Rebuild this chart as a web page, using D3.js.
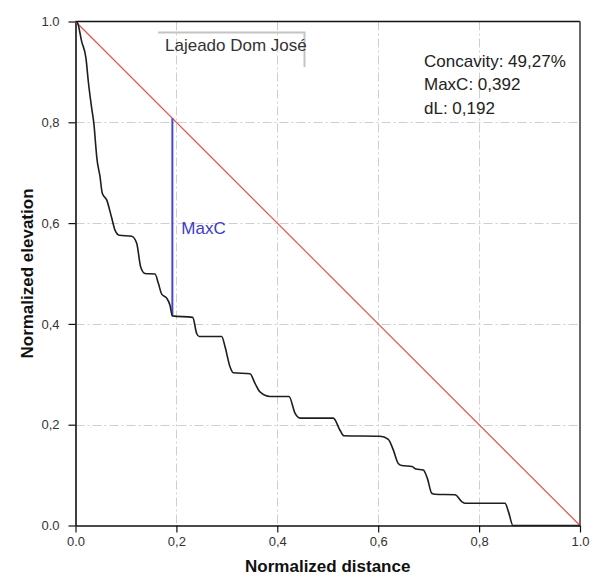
<!DOCTYPE html>
<html>
<head>
<meta charset="utf-8">
<script src="https://cdn.jsdelivr.net/npm/d3@7"></script>
<style>
  html, body { margin: 0; padding: 0; background: #fff; }
  svg { display: block; font-family: "Liberation Sans", Arial, sans-serif; }
</style>
</head>
<body>
<svg id="chart" width="607" height="579"></svg>
<script>
// Normalized longitudinal profile of the stream
const profileX = [0, 0.0036, 0.0123, 0.0208, 0.0254, 0.0321, 0.0367, 0.0400, 0.0420, 0.0486,
  0.0531, 0.0618, 0.0718, 0.0783, 0.0868, 0.1114, 0.1213, 0.1292, 0.1378, 0.1576,
  0.1641, 0.1709, 0.1808, 0.1873, 0.1920, 0.2323, 0.2402, 0.2454, 0.2898, 0.2963,
  0.3062, 0.3128, 0.3459, 0.3558, 0.3657, 0.3855, 0.4232, 0.4351, 0.4450, 0.5110,
  0.5243, 0.5322, 0.6036, 0.6200, 0.6299, 0.6398, 0.6466, 0.6670, 0.6749, 0.6894,
  0.6973, 0.7061, 0.7126, 0.7522, 0.7661, 0.7721, 0.8513, 0.8583, 0.8672, 1.0];
const profileY = [1.0, 0.998, 0.960, 0.927, 0.881, 0.828, 0.795, 0.755, 0.732, 0.692,
  0.659, 0.646, 0.610, 0.586, 0.576, 0.574, 0.560, 0.513, 0.500, 0.499,
  0.481, 0.459, 0.451, 0.437, 0.416, 0.413, 0.381, 0.375, 0.375, 0.355,
  0.315, 0.303, 0.301, 0.282, 0.265, 0.256, 0.256, 0.223, 0.213, 0.213,
  0.189, 0.178, 0.177, 0.171, 0.150, 0.123, 0.119, 0.117, 0.112, 0.110,
  0.094, 0.064, 0.062, 0.061, 0.047, 0.044, 0.044, 0.027, 0.0, 0.0];

// Reference straight line from source to mouth
const lineX = [0, 1];
const lineY = [1, 0];

// Concavity indices
const streamName = "Lajeado Dom José";
const concavity = 49.27;
const maxC = 0.392;
const dL = 0.192;

const tickValues = [0, 0.2, 0.4, 0.6, 0.8, 1.0];
const gridValues = [0.2, 0.4, 0.6, 0.8];

const fmtDec = (v, d) => v.toFixed(d).replace(".", ",");
const tickFmt = v => (v === 0 || v === 1) ? v.toFixed(1) : fmtDec(v, 1);

const svg = d3.select("#chart");
const plotL = 75.5, plotR = 580, plotT = 21.5, plotB = 525.5;

const x = d3.scaleLinear().domain([0, 1]).range([plotL, plotR]);
const y = d3.scaleLinear().domain([0, 1]).range([plotB, plotT]);

// dash-dot grid
const grid = svg.append("g").attr("stroke", "#cfcfcf").attr("stroke-width", 1)
  .attr("stroke-dasharray", "9,3,2,3");
grid.selectAll("line.v").data(gridValues).join("line").attr("class", "v")
  .attr("x1", d => Math.round(x(d)) + 0.5).attr("x2", d => Math.round(x(d)) + 0.5)
  .attr("y1", plotT).attr("y2", plotB);
grid.selectAll("line.h").data(gridValues).join("line").attr("class", "h")
  .attr("y1", d => Math.round(y(d)) + 0.5).attr("y2", d => Math.round(y(d)) + 0.5)
  .attr("x1", plotL).attr("x2", plotR);

// frame (top and right)
svg.append("line").attr("x1", plotL).attr("x2", plotR).attr("y1", plotT).attr("y2", plotT)
  .attr("stroke", "#111").attr("stroke-width", 1.6);
svg.append("line").attr("x1", plotR).attr("x2", plotR).attr("y1", plotT).attr("y2", plotB)
  .attr("stroke", "#444").attr("stroke-width", 1.6);

// axes
const xAxis = d3.axisBottom(x).tickValues(tickValues).tickFormat(tickFmt)
  .tickSizeInner(7).tickSizeOuter(0).tickPadding(4);
const yAxis = d3.axisLeft(y).tickValues(tickValues).tickFormat(tickFmt)
  .tickSizeInner(7).tickSizeOuter(0).tickPadding(9);

const gx = svg.append("g").attr("transform", `translate(0,${plotB})`).call(xAxis);
const gy = svg.append("g").attr("transform", `translate(${plotL},0)`).call(yAxis);
[gx, gy].forEach(g => {
  g.select(".domain").attr("stroke", "#111").attr("stroke-width", 1.6);
  g.selectAll(".tick line").attr("stroke", "#111").attr("stroke-width", 1.2);
  g.selectAll(".tick text").attr("fill", "#333").attr("font-size", 13)
    .attr("font-family", "'Liberation Sans', Arial, sans-serif");
});

// axis titles
svg.append("text").attr("x", (plotL + plotR) / 2).attr("y", 572)
  .attr("text-anchor", "middle").attr("font-size", 17).attr("font-weight", "bold")
  .attr("fill", "#111").text("Normalized distance");
svg.append("text").attr("transform", `translate(33,${(plotT + plotB) / 2}) rotate(-90)`)
  .attr("text-anchor", "middle").attr("font-size", 17).attr("font-weight", "bold")
  .attr("fill", "#111").text("Normalized elevation");

// straight reference line
const line = d3.line().x(d => x(d[0])).y(d => y(d[1]));
svg.append("path").datum(d3.zip(lineX, lineY)).attr("d", line)
  .attr("fill", "none").attr("stroke", "#e8534b").attr("stroke-width", 1.2);

// maximum concavity segment
const yTopC = 1 - dL;
svg.append("line").attr("x1", x(dL)).attr("x2", x(dL))
  .attr("y1", y(yTopC)).attr("y2", y(yTopC - maxC))
  .attr("stroke", "#4848cc").attr("stroke-width", 2);
svg.append("text").attr("x", x(dL) + 9).attr("y", 234)
  .attr("font-size", 17).attr("fill", "#3c3cc8").text("MaxC");

// stream profile
const curve = d3.line().x(d => x(d[0])).y(d => y(d[1])).curve(d3.curveMonotoneX);
svg.append("path").datum(d3.zip(profileX, profileY)).attr("d", curve)
  .attr("fill", "none").attr("stroke", "#1e1e1e").attr("stroke-width", 1.6);

// stream name label with frame
const title = svg.append("g");
title.append("path").attr("d", "M158,32.5 H304.5 V67")
  .attr("fill", "none").attr("stroke", "#c4c4c4").attr("stroke-width", 2);
title.append("text").attr("x", 165).attr("y", 50.5).attr("font-size", 17)
  .attr("fill", "#333").text(streamName);

// index annotations
const notes = [
  `Concavity: ${fmtDec(concavity, 2)}%`,
  `MaxC: ${fmtDec(maxC, 3)}`,
  `dL: ${fmtDec(dL, 3)}`
];
svg.append("g").selectAll("text").data(notes).join("text")
  .attr("x", 424).attr("y", (d, i) => 66.5 + i * 23.5)
  .attr("font-size", 17).attr("fill", "#222").text(d => d);
</script>
</body>
</html>
